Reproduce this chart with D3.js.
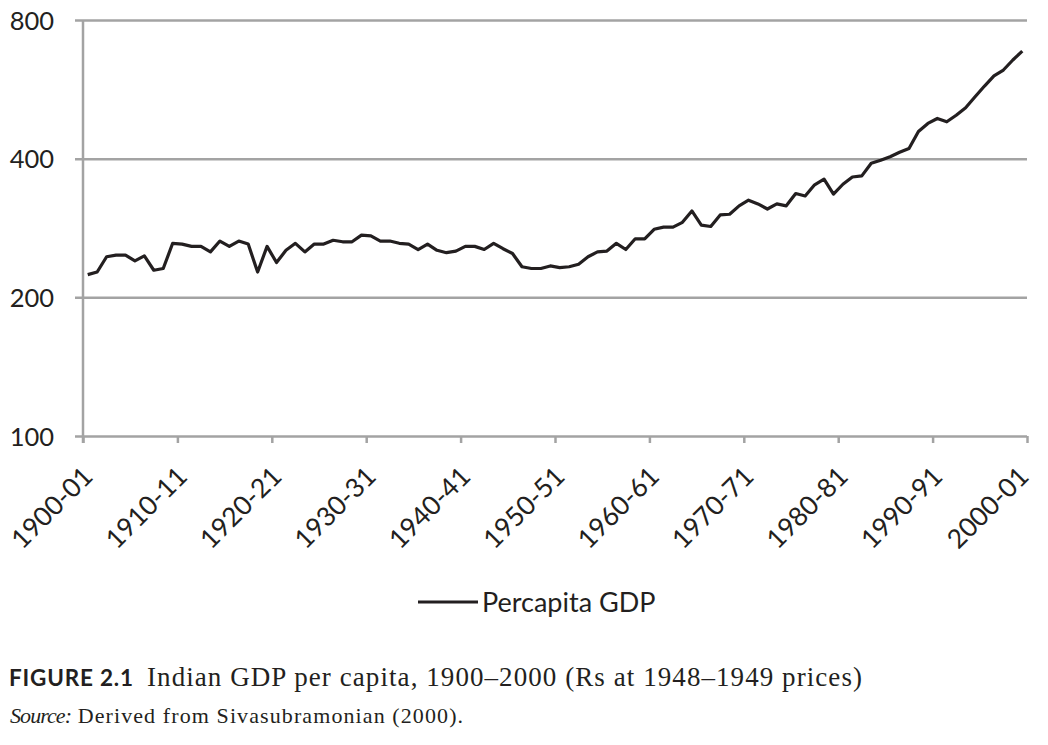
<!DOCTYPE html>
<html>
<head>
<meta charset="utf-8">
<script src="https://cdn.jsdelivr.net/npm/d3@7"></script>
<style>
  body { margin: 0; background: #fff; }
  svg { display: block; }
</style>
</head>
<body>
<svg id="chart" width="1048" height="745"></svg>
<script>
// per capita GDP, Rs at 1948-49 prices, 1900-01 .. 1999-2000
var gdp = [
  224, 227, 245, 247, 247, 240, 246, 229, 231, 262,
  261, 258, 258, 251, 265, 258, 265, 261, 227, 258,
  238, 253, 262, 251, 261, 261, 266, 264, 264, 273,
  272, 265, 265, 262, 261, 254, 261, 253, 250, 252,
  258, 258, 254, 262, 255, 249, 233, 231, 231, 234,
  232, 233, 236, 245, 251, 252, 262, 254, 268, 268,
  281, 284, 284, 291, 308, 287, 285, 302, 303, 316,
  325, 319, 311, 319, 316, 336, 332, 351, 361, 335,
  352, 365, 367, 391, 397, 404, 413, 421, 458, 477,
  489, 481, 497, 516, 545, 575, 605, 623, 655, 685
];
var xLabels = ["1900-01", "1910-11", "1920-21", "1930-31", "1940-41", "1950-51",
               "1960-61", "1970-71", "1980-81", "1990-91", "2000-01"];
var yTicks = [100, 200, 400, 800];
var seriesName = "Percapita GDP";

var svg = d3.select("#chart");
var sans = "Lato, 'Noto Sans', sans-serif";
var serif = "'Liberation Serif', serif";
var ink = "#231f20";
var grey = "#a3a3a3";

var plot = {left: 83, right: 1027, top: 20, bottom: 436};

var x = d3.scaleLinear()
    .domain([0, gdp.length])
    .range([plot.left, plot.right]);

var y = d3.scaleLog()
    .domain([100, 800])
    .range([plot.bottom, plot.top]);

// horizontal gridlines + y labels
var yAxis = d3.axisLeft(y)
    .tickValues(yTicks)
    .tickFormat(d3.format("d"))
    .tickSize(-(plot.right - plot.left))
    .tickPadding(0);

var yg = svg.append("g")
    .attr("transform", "translate(" + plot.left + ",0)")
    .call(yAxis);
yg.select(".domain").remove();
yg.selectAll(".tick line")
    .attr("x1", -8)
    .attr("stroke", grey)
    .attr("stroke-width", 2.5);
yg.selectAll(".tick text")
    .attr("x", -29)
    .attr("dy", "0.36em")
    .attr("fill", ink)
    .style("font-family", sans)
    .style("font-size", "25.5px");

// vertical axis line
svg.append("line")
    .attr("x1", plot.left).attr("x2", plot.left)
    .attr("y1", plot.top).attr("y2", plot.bottom + 7)
    .attr("stroke", grey)
    .attr("stroke-width", 2.5);

// category axis ticks every 10 years
var tickIdx = xLabels.map(function (d, i) { return i * 10; });
var xAxis = d3.axisBottom(x)
    .tickValues(tickIdx)
    .tickFormat(function (d, i) { return xLabels[i]; })
    .tickSize(7);

var xg = svg.append("g")
    .attr("transform", "translate(0," + plot.bottom + ")")
    .call(xAxis);
xg.select(".domain").remove();
xg.selectAll(".tick line")
    .attr("stroke", grey)
    .attr("stroke-width", 2.5);
xg.selectAll(".tick text")
    .attr("fill", ink)
    .style("font-family", sans)
    .style("font-size", "26.5px")
    .attr("text-anchor", "end")
    .attr("y", 0)
    .attr("dy", 0)
    .attr("transform", function (d, i) {
        var dx = (i === xLabels.length - 1) ? 3 : 11;
        return "translate(" + dx + ",42) rotate(-45)";
    });

// the series
var line = d3.line()
    .x(function (d, i) { return x(i + 0.5); })
    .y(function (d) { return y(d); });

svg.append("path")
    .datum(gdp)
    .attr("d", line)
    .attr("fill", "none")
    .attr("stroke", ink)
    .attr("stroke-width", 3.2)
    .attr("stroke-linejoin", "round");

// legend
var lg = svg.append("g").attr("transform", "translate(418,602)");
lg.append("line")
    .attr("x1", 0).attr("x2", 60)
    .attr("stroke", ink)
    .attr("stroke-width", 3);
lg.append("text")
    .attr("x", 64)
    .attr("y", 10)
    .attr("fill", ink)
    .style("font-family", sans)
    .style("font-size", "27px")
    .text(seriesName);

// caption
svg.append("text")
    .attr("x", 9)
    .attr("y", 686)
    .attr("fill", ink)
    .style("font-family", sans)
    .style("font-weight", "bold")
    .style("font-size", "22.5px")
    .attr("textLength", 124)
    .text("FIGURE 2.1");

svg.append("text")
    .attr("x", 147)
    .attr("y", 686)
    .attr("fill", ink)
    .style("font-family", serif)
    .style("font-size", "27px")
    .attr("textLength", 715)
    .text("Indian GDP per capita, 1900\u20132000 (Rs at 1948\u20131949 prices)");

var src = svg.append("text")
    .attr("x", 10)
    .attr("y", 723)
    .attr("fill", ink)
    .style("font-family", serif)
    .style("font-size", "22px");
src.append("tspan")
    .style("font-style", "italic")
    .attr("textLength", 62)
    .text("Source:");
src.append("tspan")
    .attr("textLength", 392)
    .text(" Derived from Sivasubramonian (2000).");
</script>
</body>
</html>
